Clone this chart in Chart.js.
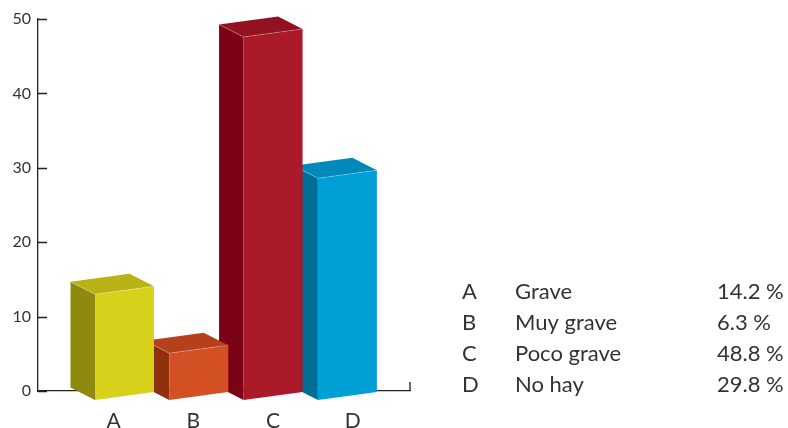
<!DOCTYPE html>
<html lang="es">
<head>
<meta charset="utf-8">
<title>Gravedad</title>
<script src="https://cdn.jsdelivr.net/npm/chart.js@4.4.1/dist/chart.umd.min.js"></script>
<style>
  html, body { margin: 0; padding: 0; background: #fff; }
  #wrap { width: 788px; height: 428px; }
</style>
</head>
<body>
<div id="wrap"><canvas id="barChart" width="788" height="428"></canvas></div>
<script>
const categories = ['A', 'B', 'C', 'D'];
const names = ['Grave', 'Muy grave', 'Poco grave', 'No hay'];
const values = [14.2, 6.3, 48.8, 29.8];
const yTicks = [0, 10, 20, 30, 40, 50];

// face colours: front, left side, top
const frontColors = ['#d8d11b', '#d35025', '#aa1a29', '#009fd6'];
const sideColors = ['#8e8a10', '#8e300c', '#7c0215', '#006d94'];
const topColors = ['#b8b217', '#b5411c', '#931221', '#0089bb'];

const FONT = 'Lato, "Noto Sans", sans-serif';
const TEXT = '#333333';
const AXIS = '#222222';

// box geometry (px)
const FACE_W = 59;
const SKEW = 8;      // right edge of the front face sits higher
const DROP = 9;      // front face starts below the baseline
const DEPTH_X = 24.5;
const DEPTH_Y = 12.5;

function poly(ctx, pts, color) {
  ctx.beginPath();
  ctx.moveTo(pts[0][0], pts[0][1]);
  for (let k = 1; k < pts.length; k++) ctx.lineTo(pts[k][0], pts[k][1]);
  ctx.closePath();
  ctx.fillStyle = color;
  ctx.fill();
}

const axisMarks = {
  id: 'axisMarks',
  beforeDatasetsDraw(chart) {
    const ctx = chart.ctx;
    const y = chart.scales.y;
    const x = chart.scales.x;
    ctx.save();
    ctx.strokeStyle = AXIS;
    ctx.lineWidth = 1.3;
    ctx.beginPath();
    y.ticks.forEach(t => {
      const py = Math.round(y.getPixelForValue(t.value)) + 0.5;
      ctx.moveTo(y.right, py);
      ctx.lineTo(y.right + 9, py);
    });
    ctx.moveTo(x.right, x.top);
    ctx.lineTo(x.right, x.top - 9);
    ctx.stroke();
    ctx.restore();
  }
};

const bars3d = {
  id: 'bars3d',
  afterDatasetsDraw(chart) {
    const ctx = chart.ctx;
    const meta = chart.getDatasetMeta(0);
    ctx.save();
    // right to left, so each box covers the side of the one behind it
    for (let i = meta.data.length - 1; i >= 0; i--) {
      const bar = meta.data[i];
      const l = bar.x - FACE_W / 2;
      const r = bar.x + FACE_W / 2;
      const fbl = [l, bar.base + DROP];
      const fbr = [r, bar.base + DROP - SKEW];
      const ftl = [l, bar.y + DROP];
      const ftr = [r, bar.y + DROP - SKEW];
      const back = p => [p[0] - DEPTH_X, p[1] - DEPTH_Y];

      poly(ctx, [back(ftl), ftl, fbl, back(fbl)], sideColors[i]);
      poly(ctx, [back(ftl), back(ftr), ftr, ftl], topColors[i]);
      poly(ctx, [ftl, ftr, fbr, fbl], frontColors[i]);

      ctx.strokeStyle = 'rgba(255,255,255,0.3)';
      ctx.lineWidth = 0.8;
      ctx.beginPath();
      ctx.moveTo(back(ftl)[0], back(ftl)[1]);
      ctx.lineTo(ftl[0], ftl[1]);
      ctx.lineTo(ftr[0], ftr[1]);
      ctx.stroke();
    }
    ctx.restore();
  }
};

const sideLegend = {
  id: 'sideLegend',
  afterDraw(chart) {
    const ctx = chart.ctx;
    ctx.save();
    ctx.font = '22px ' + FONT;
    ctx.fillStyle = TEXT;
    ctx.textBaseline = 'middle';
    ctx.textAlign = 'left';
    categories.forEach((c, i) => {
      const rowY = 292 + i * 31;
      ctx.fillText(c, 462, rowY);
      ctx.fillText(names[i], 515, rowY);
      ctx.fillText(values[i].toFixed(1) + ' %', 717, rowY);
    });
    ctx.restore();
  }
};

new Chart(document.getElementById('barChart'), {
  type: 'bar',
  data: {
    datasets: [{
      data: values.map((v, i) => ({ x: i + 1, y: v })),
      xAxisID: 'xb',
      backgroundColor: 'rgba(0,0,0,0)',
      borderWidth: 0
    }]
  },
  options: {
    responsive: false,
    animation: false,
    devicePixelRatio: 1,
    layout: { padding: { top: 19, right: 378, bottom: 0, left: 0 } },
    plugins: {
      legend: { display: false },
      tooltip: { enabled: false }
    },
    scales: {
      // placement of the boxes
      xb: {
        type: 'linear',
        display: false,
        offset: false,
        min: -0.164,
        max: 4.843
      },
      // category labels
      x: {
        type: 'linear',
        position: 'bottom',
        offset: false,
        min: 0.05,
        max: 4.72,
        afterBuildTicks: scale => {
          scale.ticks = categories.map((c, i) => ({ value: i + 1 }));
        },
        afterFit: scale => { scale.height = 37; },
        grid: { display: false, drawTicks: false, offset: false },
        border: { display: true, color: AXIS, width: 1.3 },
        ticks: {
          padding: 18,
          color: TEXT,
          font: { family: FONT, size: 21 },
          callback: value => categories[value - 1]
        }
      },
      y: {
        type: 'linear',
        min: 0,
        max: 50,
        afterBuildTicks: scale => {
          scale.ticks = yTicks.map(v => ({ value: v }));
        },
        afterFit: scale => { scale.width = 38; },
        grid: { display: false, drawTicks: false },
        border: { display: true, color: AXIS, width: 1.3 },
        ticks: {
          padding: 7,
          color: TEXT,
          font: { family: FONT, size: 16 }
        }
      }
    }
  },
  plugins: [axisMarks, bars3d, sideLegend]
});
</script>
</body>
</html>
